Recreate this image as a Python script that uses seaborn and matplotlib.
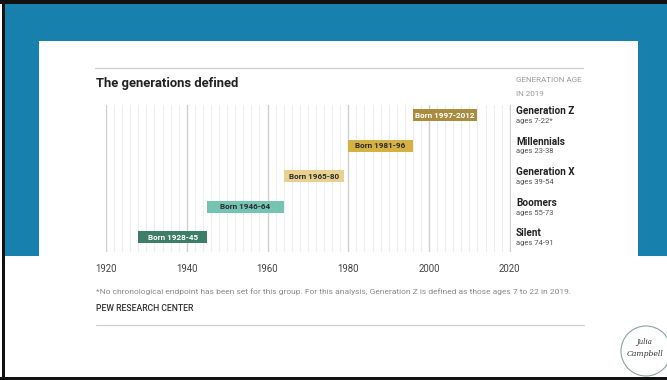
import matplotlib
matplotlib.use("Agg")
import matplotlib.pyplot as plt
from matplotlib.patches import Rectangle, Ellipse
from matplotlib.ticker import MultipleLocator
import seaborn as sns
import pandas as pd

# ---- data ----
generations = ["Generation Z", "Millennials", "Generation X", "Boomers", "Silent"]
bar_start = [1996, 1980, 1964, 1945, 1928]
bar_end = [2012, 1996, 1979, 1964, 1945]
bar_labels = ["Born 1997-2012", "Born 1981-96", "Born 1965-80", "Born 1946-64", "Born 1928-45"]
age_labels = ["ages 7-22*", "ages 23-38", "ages 39-54", "ages 55-73", "ages 74-91"]
year_ticks = [1920, 1940, 1960, 1980, 2000, 2020]
bar_colors = ["#A98C3D", "#D4B142", "#E8D190", "#75C4B2", "#3E7D68"]
text_colors = ["#ffffff", "#2a2a2a", "#2a2a2a", "#2a2a2a", "#ffffff"]

title = "The generations defined"
side_header = ["GENERATION AGE", "IN 2019"]
footnote = ("*No chronological endpoint has been set for this group. For this analysis, "
            "Generation Z is defined as those ages 7 to 22 in 2019.")
source = "PEW RESEARCH CENTER"

sns.set_theme(style="white")
plt.rcParams['font.family'] = ['Roboto', 'DejaVu Sans']

W, H = 667, 380
fig = plt.figure(figsize=(W / 100, H / 100), dpi=100)
fig.patch.set_facecolor("white")


def fx(px):
    return px / W


def fy(py):
    return 1 - py / H


def rect(x0, y0, x1, y1, color, z):
    fig.patches.append(Rectangle((fx(x0), fy(y1)), (x1 - x0) / W, (y1 - y0) / H,
                                 transform=fig.transFigure, facecolor=color,
                                 edgecolor="none", zorder=z))


# slide background
rect(5, 4, 667, 256, "#1780AD", -5)
rect(39, 41, 638, 256, "#ffffff", -4)
rect(0, 0, 667, 4, "#111111", -3)
rect(2, 0, 5, 380, "#111111", -3)
rect(0, 377, 667, 380, "#111111", -3)

# rules
fig.add_artist(plt.Line2D([fx(95), fx(583)], [fy(67.5), fy(67.5)], color="#cfcfcf", lw=0.9,
                          transform=fig.transFigure))
fig.add_artist(plt.Line2D([fx(96), fx(584)], [fy(324.5), fy(324.5)], color="#cfcfcf", lw=0.9,
                          transform=fig.transFigure))

# texts
fig.text(fx(95.5), fy(83.5), title, fontsize=9.4, fontweight="bold", color="#222222",
         ha="left", va="center")
for k, line in enumerate(side_header):
    fig.text(fx(516), fy(80.5 + 13 * k), line, fontsize=5.8, color="#9a9a9a", ha="left",
             va="center")
fig.text(fx(96), fy(292), footnote, fontsize=6.0, color="#8a8a8a", ha="left", va="center")
fig.text(fx(96), fy(308.5), source, fontsize=6.2, color="#333333", ha="left", va="center",
         fontweight="medium")

# main axes
ax = fig.add_axes([fx(106), fy(252), 405 / W, 147 / H])
df = pd.DataFrame({"generation": generations, "end": bar_end, "start": bar_start})
sns.barplot(data=df, x="end", y="generation", order=generations, orient="h",
            width=0.39, errorbar=None, color=bar_colors[0], ax=ax, zorder=3)
for patch, s, e, c in zip(ax.patches, bar_start, bar_end, bar_colors):
    patch.set_x(s)
    patch.set_width(e - s)
    patch.set_facecolor(c)
    patch.set_edgecolor("none")

for i, (s, e, lab, tc) in enumerate(zip(bar_start, bar_end, bar_labels, text_colors)):
    ax.text((s + e) / 2, i, lab, ha="center", va="center", fontsize=5.9,
            fontweight="bold", color=tc, zorder=4)

ax.set_xlim(1920, 2020.3)
ax.set_ylim(4.49, -0.33)
ax.set_xlabel("")
ax.set_ylabel("")
ax.set_yticks([])
ax.set_xticks(year_ticks)
ax.set_xticklabels([str(y) for y in year_ticks])
ax.xaxis.set_minor_locator(MultipleLocator(2))
ax.tick_params(axis="x", which="both", length=0, pad=9.0, labelsize=6.9, labelcolor="#444444")
ax.grid(False)
ax.xaxis.grid(True, which="minor", color="#eeeeee", lw=0.8, zorder=0)
ax.xaxis.grid(True, which="major", color="#d0d0d0", lw=1.0, zorder=1)
ax.set_axisbelow(True)
for sp in ax.spines.values():
    sp.set_visible(False)

# right-hand labels
for i, (g, a) in enumerate(zip(generations, age_labels)):
    yc = 115.2 + 30.5 * i
    fig.text(fx(516), fy(yc - 3.8), g, fontsize=7.2, fontweight="bold", color="#222222",
             ha="left", va="center")
    fig.text(fx(516), fy(yc + 5.8), a, fontsize=5.5, color="#555555", ha="left", va="center")

# logo
fig.patches.append(Ellipse((fx(646), fy(351)), 50 / W, 50 / H, transform=fig.transFigure,
                           facecolor="none", edgecolor="#8aa3a3", lw=0.8))
fig.text(fx(644), fy(342), "Julia", fontsize=5, style="italic", family="DejaVu Serif",
         color="#333333", ha="center", va="center")
fig.text(fx(645), fy(354), "Campbell", fontsize=5.5, style="italic", family="DejaVu Serif",
         color="#333333", ha="center", va="center")

fig.savefig("out.png", dpi=100)
